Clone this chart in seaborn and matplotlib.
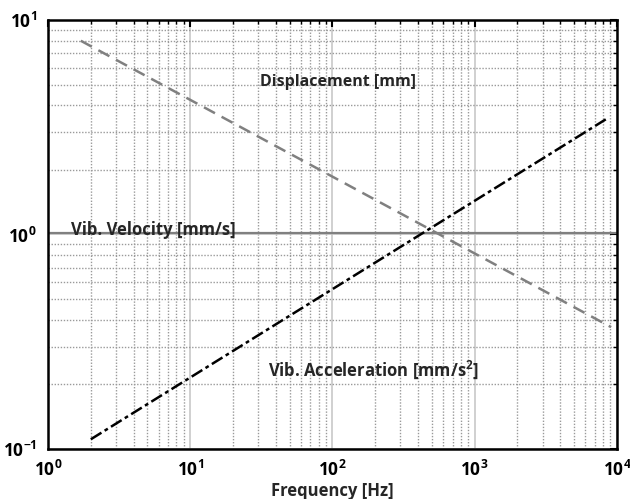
import numpy as np
import pandas as pd
import matplotlib
matplotlib.use("Agg")
import matplotlib.pyplot as plt
import seaborn as sns
from matplotlib.ticker import LogLocator, FixedFormatter, FixedLocator, NullFormatter

# values
disp_freq = [1.7, 9100]
disp_val = [8.0, 0.37]
vel_freq = [1, 10000]
vel_val = [1.02, 1.02]
acc_freq = [2.0, 8700]
acc_val = [0.111, 3.5]

x_ticks = [1, 10, 100, 1000, 10000]
x_labels = ["$\\mathbf{10^{0}}$", "$\\mathbf{10^{1}}$", "$\\mathbf{10^{2}}$",
            "$\\mathbf{10^{3}}$", "$\\mathbf{10^{4}}$"]
y_ticks = [0.1, 1, 10]
y_labels = ["$\\mathbf{10^{-1}}$", "$\\mathbf{10^{0}}$", "$\\mathbf{10^{1}}$"]

df = pd.concat([
    pd.DataFrame({"freq": disp_freq, "val": disp_val, "series": "Displacement"}),
    pd.DataFrame({"freq": vel_freq, "val": vel_val, "series": "Velocity"}),
    pd.DataFrame({"freq": acc_freq, "val": acc_val, "series": "Acceleration"}),
])

sns.set_style("white")
plt.rcParams["font.family"] = ["Open Sans", "DejaVu Sans"]
plt.rcParams["mathtext.fontset"] = "custom"
plt.rcParams["mathtext.bf"] = "Open Sans:bold"
plt.rcParams["mathtext.rm"] = "Open Sans"

fig = plt.figure(figsize=(6.3, 4.99), dpi=100)
ax = fig.add_axes([0.0762, 0.1002, 0.903, 0.8598])
ax.set_xscale("log")
ax.set_yscale("log")

styles = {
    "Displacement": dict(color="#808080", ls=(0, (5, 3)), lw=1.8),
    "Velocity": dict(color="#808080", ls="-", lw=1.6),
    "Acceleration": dict(color="black", ls=(0, (5, 1.5, 1.5, 1.5)), lw=1.8),
}
for name, sub in df.groupby("series", sort=False):
    sns.lineplot(data=sub, x="freq", y="val", ax=ax, legend=False, **styles[name])

ax.set_xlim(1, 10000)
ax.set_ylim(0.1, 10)

ax.xaxis.set_major_locator(FixedLocator(x_ticks))
ax.xaxis.set_major_formatter(FixedFormatter(x_labels))
ax.yaxis.set_major_locator(FixedLocator(y_ticks))
ax.yaxis.set_major_formatter(FixedFormatter(y_labels))
ax.xaxis.set_minor_locator(LogLocator(base=10, subs=np.arange(2, 10), numticks=20))
ax.yaxis.set_minor_locator(LogLocator(base=10, subs=np.arange(2, 10), numticks=20))
ax.xaxis.set_minor_formatter(NullFormatter())
ax.yaxis.set_minor_formatter(NullFormatter())

ax.grid(which="major", color="#c8c8c8", ls="-", lw=1.2, zorder=0)
ax.grid(which="minor", color="#9a9a9a", ls=(0, (1, 1.2)), lw=1.0, zorder=0)
ax.set_axisbelow(True)

ax.tick_params(which="both", direction="in", top=True, right=True, colors="black")
ax.tick_params(which="major", length=5, width=1.5, labelsize=12.5, pad=8)
ax.tick_params(which="minor", length=3, width=1.0)
for s in ax.spines.values():
    s.set_color("black")
    s.set_linewidth(1.8)

ax.set_xlabel("Frequency [Hz]", fontsize=12, fontweight="bold", labelpad=1)
ax.set_ylabel("")

ax.text(0.373, 0.855, "Displacement [mm]", transform=ax.transAxes,
        fontsize=11.5, fontweight="bold", ha="left", va="center")
ax.text(0.04, 0.51, "Vib. Velocity [mm/s]", transform=ax.transAxes,
        fontsize=12, fontweight="bold", ha="left", va="center")
ax.text(0.386, 0.185, "Vib. Acceleration [mm/s$\\mathbf{^2}$]", transform=ax.transAxes,
        fontsize=12, fontweight="bold", ha="left", va="center")

fig.savefig("out.png", dpi=100)
